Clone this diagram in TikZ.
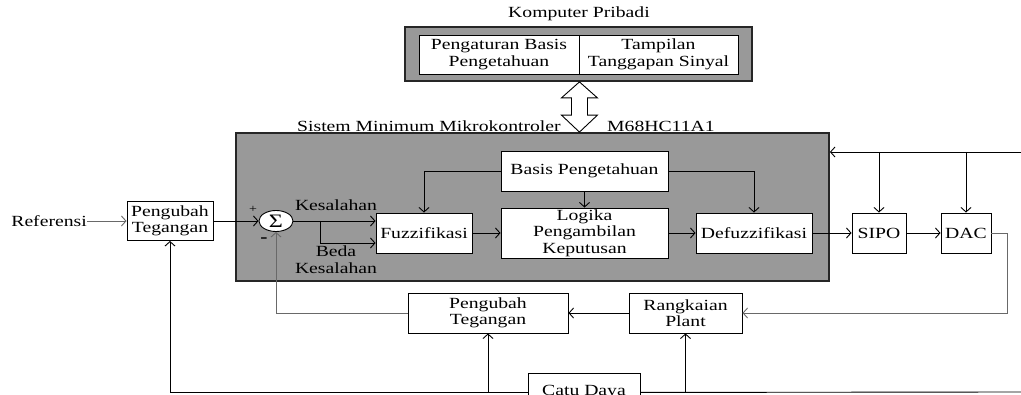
\documentclass[tikz,border=0pt]{standalone}
\usepackage{fontspec}
\setmainfont[FakeStretch=1.27]{Liberation Serif}
\usetikzlibrary{arrows.meta,calc,shapes.geometric}
\definecolor{boxgray}{RGB}{153,153,153}
\definecolor{linegray}{RGB}{105,105,105}
\newcommand\dgfont{\fontsize{15.5}{16.5}\selectfont}
\begin{document}
\begin{tikzpicture}[x=1pt,y=-1pt,
  blk/.style={draw=black, fill=white, line width=0.9pt, align=center, inner sep=0pt, font=\dgfont},
  outerbox/.style={draw=black!85, fill=boxgray, line width=1.8pt, inner sep=0pt},
  lbl/.style={inner sep=0pt, font=\dgfont, align=center},
  arr/.style={-{Straight Barb[length=4.5pt,width=10pt]}, line width=0.9pt},
  ln/.style={line width=0.9pt},
  gline/.style={draw=linegray}]
\useasboundingbox (0,0) rectangle (1021,395);
\clip (0,0) rectangle (1021,395);
% Komputer Pribadi
\node[outerbox, minimum width=347, minimum height=54] (kp) at (578.5,54) {};
\node[lbl] (kpt) at (579,14) {Komputer Pribadi};
\node[blk, minimum width=160, minimum height=39] (pb) at (499,54.5) {Pengaturan Basis\\Pengetahuan};
\node[blk, minimum width=159, minimum height=39] (tt) at (658.5,54.5) {Tampilan\\Tanggapan Sinyal};
% main box
\node[outerbox, minimum width=593, minimum height=148] (mb) at (532.5,207) {};
\node[lbl, anchor=west] (smt) at (297,126) {Sistem Minimum Mikrokontroler};
\node[lbl, anchor=west] (mct) at (607,126) {M68HC11A1};
% double arrow
\coordinate (ta) at (pb.east |- kp.south);
\coordinate (tb) at (pb.east |- mb.north);
\draw[fill=white, line width=0.9pt] (ta) -- ++(18,16) -- ++(-10,0) -- ($(tb)+(8,-17)$) -- ++(10,0) -- (tb)
  -- ++(-18,-17) -- ++(10,0) -- ($(ta)+(-8,16)$) -- ++(-10,0) -- cycle;
% blocks
\node[lbl, anchor=east] (ref) at (87,221) {Referensi};
\node[blk, minimum width=86, minimum height=39] (pu1) at (170,221) {Pengubah\\Tegangan};
\node[draw, ellipse, fill=white, line width=0.9pt, minimum width=34, minimum height=21, inner sep=0pt, font=\fontsize{19}{19}\selectfont] (sum) at (276,221) {\raisebox{-0.5pt}{Σ}};
\node[blk, minimum width=96, minimum height=40] (fz) at (424,233) {Fuzzifikasi};
\node[blk, minimum width=167, minimum height=40] (bp) at (584.5,171) {Basis Pengetahuan};
\node[blk, minimum width=167, minimum height=50] (lg) at (584.5,233) {Logika\\Pengambilan\\Keputusan};
\node[blk, minimum width=116, minimum height=40] (df) at (754,233) {Defuzzifikasi};
\node[blk, minimum width=54, minimum height=40] (sipo) at (879,233) {SIPO};
\node[blk, minimum width=50, minimum height=40] (dac) at (966,233) {DAC};
\node[blk, minimum width=160, minimum height=40] (pu2) at (488,313) {Pengubah\\Tegangan};
\node[blk, minimum width=113, minimum height=40] (rp) at (685.5,313) {Rangkaian\\Plant};
\node[blk, minimum width=112, minimum height=38, anchor=north] (cd) at (584,373) {Catu Daya};
% labels
\node[lbl] (kes) at (336,205) {Kesalahan};
\node[lbl] (bk) at (336,259.5) {Beda\\Kesalahan};
\node[inner sep=0pt, font=\fontsize{11}{12}\selectfont] (plus) at (253,209) {+};
\node[inner sep=0pt, font=\fontsize{17}{17}\selectfont\bfseries] (minus) at (264,240) {-};
% connectors
\draw[arr, gline] (ref.east) -- (pu1.west);
\draw[arr] (pu1.east) -- (sum.west);
\draw[arr] (sum.east) -- ($(fz.west)+(0,-12)$);
\coordinate (br) at (320,221);
\draw[arr] (br) |- ($(fz.west)+(0,10)$);
\draw[arr] (fz) -- (lg);
\draw[arr] (lg) -- (df);
\draw[arr] (df) -- (sipo);
\draw[arr] (sipo) -- (dac);
\draw[arr] (bp) -- (lg);
\draw[arr] (bp.west) -| (fz.north);
\draw[arr] (bp.east) -| (df.north);
\draw[arr, gline] (dac.east) -- ++(16,0) |- (rp.east);
\draw[arr] (rp) -- (pu2);
\draw[arr, gline] (pu2.west) -| (sum.south);
\coordinate (tr) at (1021,152);
\draw[arr] (tr) -- (tr -| mb.east);
\draw[arr] (tr -| sipo.north) -- (sipo.north);
\draw[arr] (tr -| dac.north) -- (dac.north);
\coordinate (bl) at (1021,392);
\draw[arr] (cd.west) -| (pu1.south);
\draw[arr] (cd.west -| pu2.south) -- (pu2.south);
\draw[ln] (cd.east) -- (bl);
\draw[arr] (cd.east -| rp.south) -- (rp.south);
\end{tikzpicture}
\end{document}
